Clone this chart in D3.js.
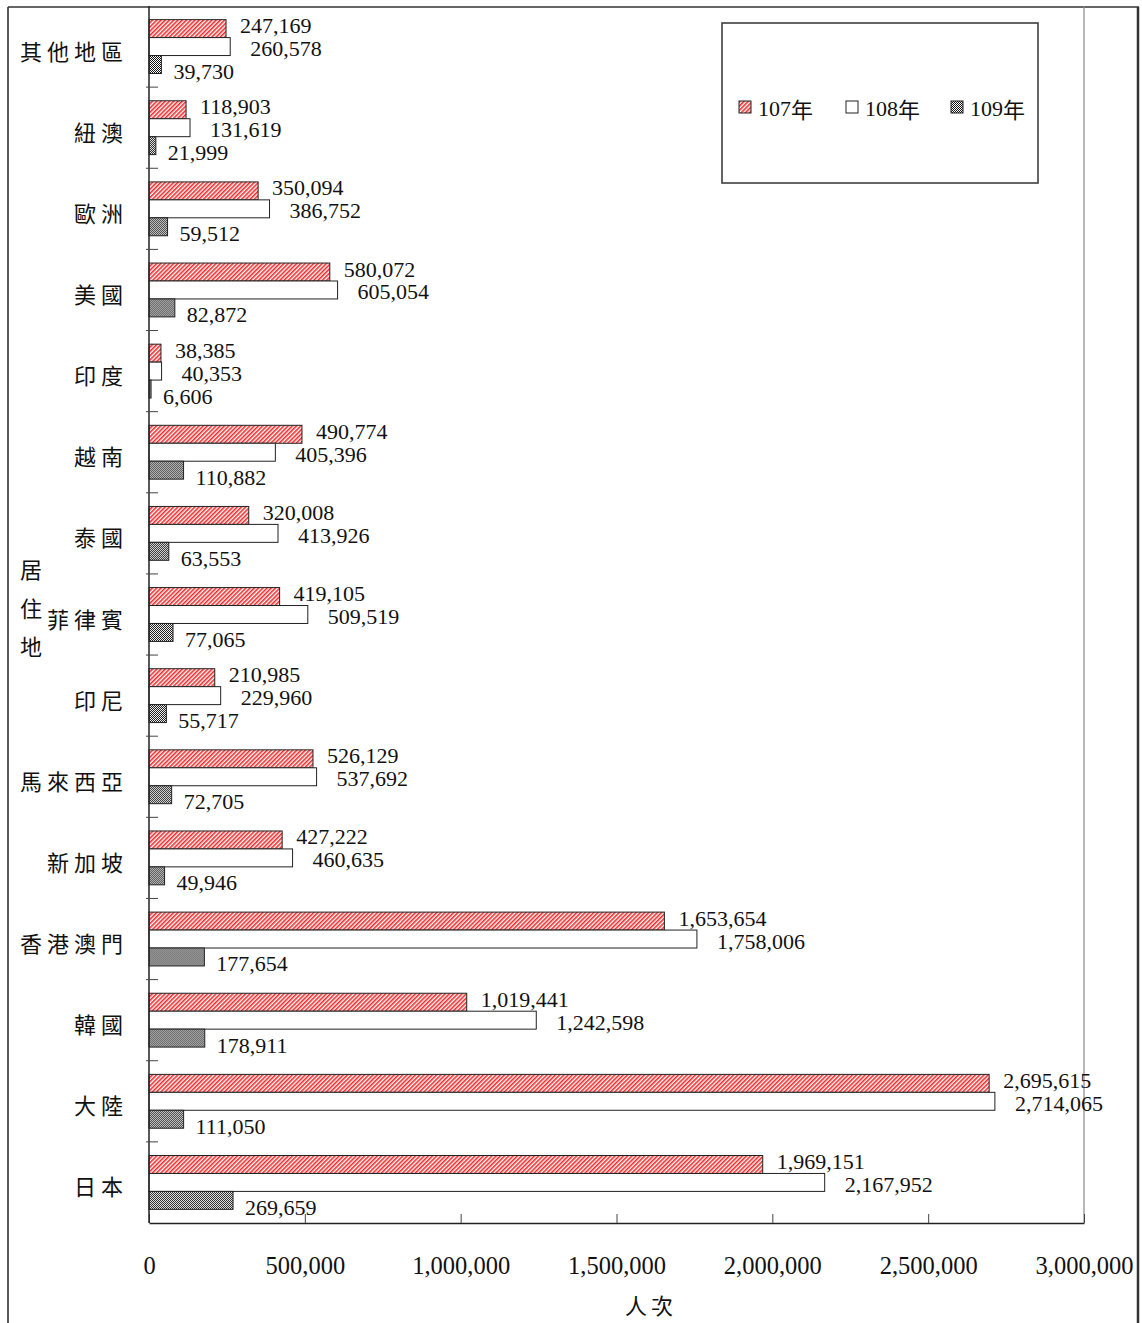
<!DOCTYPE html>
<html lang="zh-Hant">
<head>
<meta charset="UTF-8">
<title>居住地 人次</title>
<script src="https://cdn.jsdelivr.net/npm/d3@7"></script>
<style>
	body{ margin:0; background:#fff; }
	svg{ display:block; }
	.num{ font-family:"Liberation Serif","Times New Roman",serif; fill:#111; }
	.cjk{ font-family:"Noto Sans CJK TC","Noto Sans CJK SC",sans-serif; fill:#111; }
</style>
</head>
<body>
<svg id="chart" width="1142" height="1323"></svg>
<script>
// categories, top to bottom as drawn
var categories = ["其他地區","紐澳","歐洲","美國","印度","越南","泰國","菲律賓","印尼","馬來西亞","新加坡","香港澳門","韓國","大陸","日本"];
var series = ["107年","108年","109年"];
var y107 = [247169,118903,350094,580072,38385,490774,320008,419105,210985,526129,427222,1653654,1019441,2695615,1969151];
var y108 = [260578,131619,386752,605054,40353,405396,413926,509519,229960,537692,460635,1758006,1242598,2714065,2167952];
var y109 = [39730,21999,59512,82872,6606,110882,63553,77065,55717,72705,49946,177654,178911,111050,269659];
var tickValues = [0,500000,1000000,1500000,2000000,2500000,3000000];
var tickLabels = ["0","500,000","1,000,000","1,500,000","2,000,000","2,500,000","3,000,000"];
var axisTitle = "人次";
var sideTitle = ["居","住","地"];

(function(){
var svg = d3.select("#chart");
var W = 1142, H = 1323;
var pLeft = 149, pRight = 1084, pTop = 6, pBottom = 1223;

// patterns
var defs = svg.append("defs");
var p1 = defs.append("pattern").attr("id","hatchRed")
	.attr("patternUnits","userSpaceOnUse").attr("width",3).attr("height",3)
	.attr("patternTransform","rotate(45)");
p1.append("rect").attr("width",3).attr("height",3).attr("fill","#fff");
p1.append("rect").attr("width",1.6).attr("height",3).attr("fill","#f02a2a");

var p3 = defs.append("pattern").attr("id","checkDark")
	.attr("patternUnits","userSpaceOnUse").attr("width",2).attr("height",2);
p3.append("rect").attr("width",2).attr("height",2).attr("fill","#fff");
p3.append("rect").attr("width",1).attr("height",1).attr("fill","#111");
p3.append("rect").attr("x",1).attr("y",1).attr("width",1).attr("height",1).attr("fill","#111");

var fills = ["url(#hatchRed)","#fff","url(#checkDark)"];
var labelDx = [14,20,12], labelDy = [-3,2,7];

var rows = categories.map(function(c,i){
	return {cat:c, vals:[y107[i],y108[i],y109[i]]};
});

var x = d3.scaleLinear().domain([0,3000000]).range([pLeft,pRight]);
var y = d3.scaleBand().domain(categories).range([pTop,pBottom]).padding(0);
var y1 = d3.scaleBand().domain(series).range([0,y.bandwidth()]).paddingInner(0).paddingOuter(0.76);

// outer frame
svg.append("line").attr("x1",8).attr("x2",8).attr("y1",7).attr("y2",H+2).attr("stroke","#222").attr("stroke-width",1.5);
svg.append("line").attr("x1",8).attr("x2",1139).attr("y1",7).attr("y2",7).attr("stroke","#333").attr("stroke-width",1.5);
svg.append("line").attr("x1",1138).attr("x2",1138).attr("y1",7).attr("y2",H+2).attr("stroke","#333").attr("stroke-width",2.5);

// plot right border
svg.append("line").attr("x1",pRight).attr("x2",pRight).attr("y1",pTop).attr("y2",pBottom).attr("stroke","#888").attr("stroke-width",1.2);

// bars
var g = svg.selectAll("g.row").data(rows).enter().append("g")
	.attr("class","row")
	.attr("transform",function(d){ return "translate(0,"+y(d.cat)+")"; });

var items = g.selectAll("g.bar").data(function(d){
	return d.vals.map(function(v,k){ return {s:series[k], k:k, v:v}; });
}).enter().append("g").attr("class","bar");

items.append("rect")
	.attr("x",x(0))
	.attr("y",function(d){ return y1(d.s); })
	.attr("width",function(d){ return x(d.v)-x(0); })
	.attr("height",y1.bandwidth())
	.attr("fill",function(d){ return fills[d.k]; })
	.attr("stroke","#222").attr("stroke-width",1);

items.append("text").attr("class","num")
	.attr("x",function(d){ return x(d.v)+labelDx[d.k]; })
	.attr("y",function(d){ return y1(d.s)+y1.bandwidth()/2+labelDy[d.k]; })
	.attr("dominant-baseline","central")
	.style("font-size","22px")
	.text(function(d){ return d3.format(",")(d.v); });

// x axis
var xAxis = svg.append("g").attr("transform","translate(0,"+pBottom+")")
	.call(d3.axisBottom(x).tickValues(tickValues).tickSizeInner(-9).tickSizeOuter(0)
		.tickFormat(function(d,i){ return tickLabels[i]; }));
xAxis.select(".domain").attr("stroke","#222").attr("stroke-width",1.5);
xAxis.selectAll(".tick line").attr("stroke","#444");
xAxis.selectAll(".tick text").attr("class","num")
	.attr("y",42).attr("dy",null).attr("dominant-baseline","central")
	.style("font-size","24.5px").attr("fill","#111");
xAxis.attr("font-family",null).attr("font-size",null);

// y axis line and boundary ticks
svg.append("line").attr("x1",pLeft).attr("x2",pLeft).attr("y1",pTop).attr("y2",pBottom).attr("stroke","#222").attr("stroke-width",1.5);
svg.selectAll("line.ytick").data(categories.slice(1)).enter().append("line")
	.attr("class","ytick")
	.attr("x1",pLeft-3).attr("x2",pLeft+9)
	.attr("y1",function(d){ return y(d); }).attr("y2",function(d){ return y(d); })
	.attr("stroke","#444").attr("stroke-width",1);

// category labels
svg.selectAll("text.cat").data(categories).enter().append("text")
	.attr("class","cjk cat")
	.attr("x",128)
	.attr("y",function(d){ return y(d)+y.bandwidth()/2+3; })
	.attr("text-anchor","end")
	.attr("dominant-baseline","central")
	.style("font-size","22px").style("letter-spacing","5px")
	.text(function(d){ return d; });

// side title
svg.selectAll("text.side").data(sideTitle).enter().append("text")
	.attr("class","cjk side")
	.attr("x",31).attr("y",function(d,i){ return 568+i*38.5; })
	.attr("text-anchor","middle").attr("dominant-baseline","central")
	.style("font-size","22px")
	.text(function(d){ return d; });

// axis title
svg.append("text").attr("class","cjk")
	.attr("x",651).attr("y",1304)
	.attr("text-anchor","middle").attr("dominant-baseline","central")
	.style("font-size","22px").style("letter-spacing","4px")
	.text(axisTitle);

// legend
var lg = svg.append("g");
lg.append("rect").attr("x",722).attr("y",23).attr("width",316).attr("height",160)
	.attr("fill","#fff").attr("stroke","#333").attr("stroke-width",1.5);
var legX = [739,846,951];
var li = lg.selectAll("g.li").data(series).enter().append("g").attr("class","li");
li.append("rect").attr("x",function(d,i){ return legX[i]; }).attr("y",101)
	.attr("width",12).attr("height",12)
	.attr("fill",function(d,i){ return fills[i]; })
	.attr("stroke","#222").attr("stroke-width",1);
li.append("text").attr("class","num")
	.attr("x",function(d,i){ return legX[i]+19; }).attr("y",108)
	.attr("dominant-baseline","central")
	.style("font-size","22px")
	.text(function(d){ return d.replace("年",""); })
	.append("tspan").style("font-family","'Noto Sans CJK TC',sans-serif").text("年");
})();
</script>
</body>
</html>
